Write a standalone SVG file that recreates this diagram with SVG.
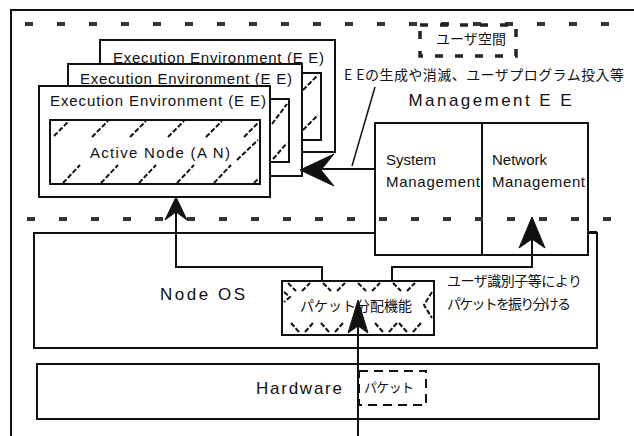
<svg xmlns="http://www.w3.org/2000/svg" width="634" height="436" viewBox="0 0 634 436">
<style>
.box{fill:#fff;stroke:#111;stroke-width:2}
.ln{fill:none;stroke:#111;stroke-width:2}
.thin{fill:none;stroke:#111;stroke-width:1.5}
.hatch{fill:none;stroke:#111;stroke-width:2;stroke-dasharray:5 2}
.sep{fill:none;stroke:#333;stroke-width:4;stroke-dasharray:8 24}
.head{fill:#111;stroke:#111;stroke-width:1}
.t{font-family:"Liberation Sans","DejaVu Sans",sans-serif;fill:#111}
.j{font-family:"Noto Sans CJK JP","Liberation Sans",sans-serif;fill:#111}
</style>
<rect x="0" y="0" width="634" height="436" fill="#fff"/>
<g id="frame">
<path class="ln" d="M11,436 V10 H634"/>
</g>
<g id="separators">
<line class="sep" x1="25" y1="24" x2="625" y2="24"/>
</g>
<g id="user-space">
<rect x="420" y="25" width="96" height="31" fill="none" stroke="#222" stroke-width="3.5" stroke-dasharray="8 12"/>
<text class="j" x="471" y="44" font-size="14" text-anchor="middle" textLength="70">ユーザ空間</text>
</g>
<g id="ee-back">
<rect class="box" x="100" y="40" width="235" height="112"/>
<rect class="box" x="280" y="73" width="41" height="67"/>
<path class="hatch" d="M303,90 L318,75 M303,130 L318,115"/>
<text class="t" x="113" y="63" font-size="15" textLength="211">Execution Environment (E E)</text>
</g>
<g id="ee-mid">
<rect class="box" x="68" y="64" width="234" height="112"/>
<rect class="box" x="250" y="99" width="39" height="63"/>
<path class="hatch" d="M272,124 L287,104 M273,159 L287,143"/>
<text class="t" x="80" y="84" font-size="15" textLength="212">Execution Environment (E E)</text>
</g>
<g id="ee-front">
<rect class="box" x="39" y="86" width="231" height="111"/>
<text class="t" x="50" y="106" font-size="15" textLength="216">Execution Environment (E E)</text>
</g>
<g id="active-node">
<rect class="box" x="50" y="120" width="210" height="64"/>
<path class="hatch" d="M54,136 L68,122 M92,137 L108,121 M130,137 L146,121 M168,137 L184,121 M206,137 L222,121 M244,137 L258,123 M63,183 L80,165 M101,183 L118,165 M139,183 L156,165 M177,183 L194,165 M214,183 L231,165 M237,160 L258,140 M254,183 L259,178"/>
<text class="t" x="160" y="158" font-size="15" text-anchor="middle" textLength="140">Active Node (A N)</text>
</g>
<g id="node-os">
<rect class="box" x="34" y="233" width="563" height="115"/>
<text class="t" x="160" y="300" font-size="17" textLength="85">Node OS</text>
</g>
<g id="mgmt-ee">
<text class="t" x="490" y="106" font-size="17" text-anchor="middle" textLength="163">Management E E</text>
<rect class="box" x="375" y="123" width="213" height="132"/>
<line class="ln" x1="482" y1="123" x2="482" y2="255"/>
<text class="t" x="386" y="165" font-size="15">System</text>
<text class="t" x="386" y="187" font-size="15" textLength="94">Management</text>
<text class="t" x="492" y="165" font-size="15">Network</text>
<text class="t" x="492" y="187" font-size="15" textLength="93">Management</text>
</g>
<g id="separators2">
<line class="sep" x1="27" y1="219" x2="625" y2="219"/>
</g>
<g id="packet-dist">
<rect class="box" x="282" y="281" width="152" height="54"/>
<path class="hatch" d="M288,283 L296,291 M302,291 L310,283 M323,283 L331,291 M337,291 L345,283 M358,283 L366,291 M372,291 L380,283 M393,283 L401,291 M407,291 L415,283 M291,323 L299,332 M305,332 L313,323 M321,323 L329,332 M335,332 L343,323 M375,323 L383,332 M389,332 L397,323 M399,323 L407,332 M413,332 L421,323 M432,292 L424,305 L432,318 M284,292 L290,297 L284,302"/>
<text class="j" x="356" y="311" font-size="14" text-anchor="middle" textLength="112">パケット分配機能</text>
</g>
<g id="hardware">
<rect class="box" x="37" y="364" width="562" height="55"/>
<text class="t" x="256" y="394" font-size="17" textLength="86">Hardware</text>
</g>
<g id="packet">
<rect x="359" y="371" width="67" height="34" fill="#fff" stroke="#111" stroke-width="2" stroke-dasharray="9 6"/>
<text class="j" x="389" y="392" font-size="13" text-anchor="middle" textLength="50">パケット</text>
</g>
<g id="labels">
<text class="j" x="344" y="80" font-size="14" textLength="280">E Eの生成や消滅、ユーザプログラム投入等</text>
<text class="j" x="447" y="286" font-size="14" textLength="135">ユーザ識別子等により</text>
<text class="j" x="447" y="309" font-size="14" textLength="124">パケットを振り分ける</text>
</g>
<g id="connectors">
<path class="ln" d="M588,232 H597"/>
<line class="ln" x1="375" y1="169" x2="320" y2="169" stroke-width="3"/>
<path class="head" d="M300,170 L334,154 L321,170 L334,186 Z"/>
<line class="thin" x1="375" y1="87" x2="352" y2="166"/>
<path class="ln" d="M322,281 V267 H176 V212"/>
<path class="head" d="M176,197 L187,220 L176,212 L165,220 Z"/>
<path class="ln" d="M392,281 V267 H532 V238"/>
<path class="head" d="M532,217 L545,248 L532,239 L519,248 Z"/>
<path class="ln" d="M358,436 V326"/>
<path class="head" d="M358,300 L368,333 L358,326 L348,333 Z"/>
</g>
</svg>
